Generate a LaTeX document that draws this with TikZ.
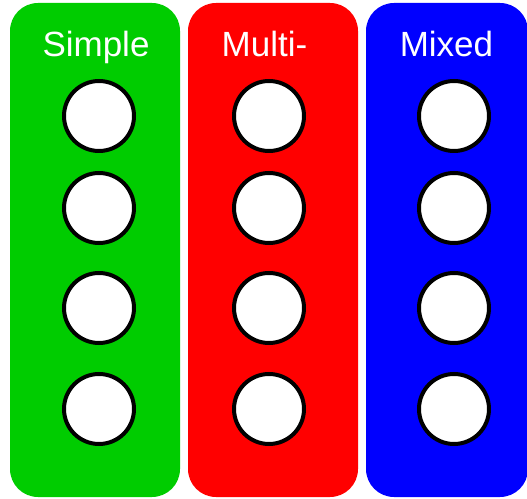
\documentclass[tikz,border=0pt]{standalone}
\usepackage{fontspec}
\setmainfont{Liberation Sans}
\begin{document}
\begin{tikzpicture}[x=1pt,y=1pt,
  panel/.style={rounded corners=28pt, draw=none},
  unit/.style={circle, draw=black, line width=4pt, fill=white, minimum size=70pt, inner sep=0pt},
  title/.style={text=white, font=\fontsize{35}{40}\selectfont, anchor=base}]
\useasboundingbox (0,0) rectangle (527,498);
\fill[panel, fill={rgb,255:red,0;green,204;blue,0}] (10,1) rectangle (180,495);
\fill[panel, fill={rgb,255:red,255;green,0;blue,0}] (188,1) rectangle (358,495);
\fill[panel, fill={rgb,255:red,0;green,0;blue,255}] (366,1) rectangle (528,495);
\node[title] (t1) at (96,441) {Simple};
\node[title] (t2) at (264.5,441) {Multi-};
\node[title] (t3) at (446.5,441) {Mixed};
\foreach \i/\y in {1/382,2/290,3/190,4/89}{
  \node[unit] (g\i) at (99,\y) {};
  \node[unit] (r\i) at (269,\y) {};
  \node[unit] (b\i) at (454,\y) {};
}
\end{tikzpicture}
\end{document}
